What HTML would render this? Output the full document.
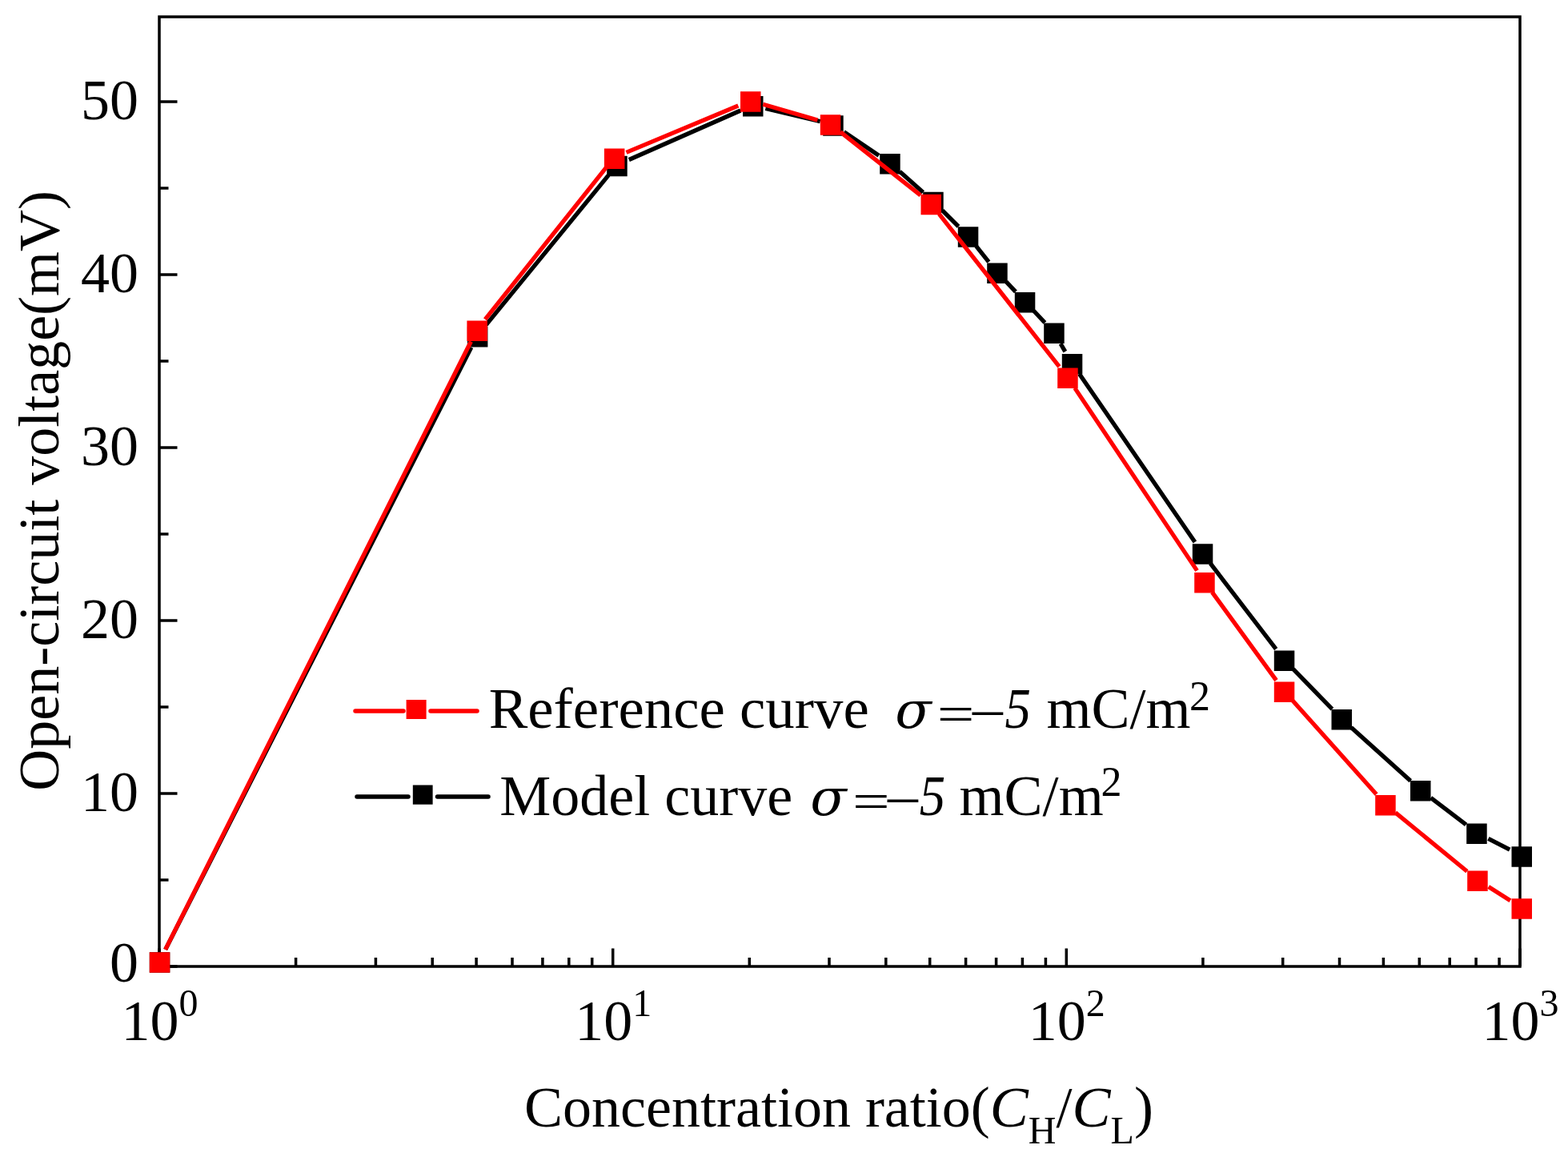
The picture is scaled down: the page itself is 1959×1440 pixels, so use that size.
<!DOCTYPE html>
<html><head><meta charset="utf-8"><title>Open-circuit voltage vs concentration ratio</title>
<style>html,body{margin:0;padding:0;background:#fff;}svg{display:block;}</style></head>
<body>
<svg width="1959" height="1440" viewBox="0 0 1959 1440">
<rect width="100%" height="100%" fill="#fff"/>
<rect x="199" y="21" width="1700" height="1186" fill="none" stroke="#000" stroke-width="3.5"/>
<path d="M199 1207H221.5M199 991H221.5M199 775H221.5M199 559H221.5M199 343H221.5M199 127H221.5M199 1099H210.5M199 883H210.5M199 667H210.5M199 451H210.5M199 235H210.5M199 1207V1184.5M369.6 1207V1196M469.4 1207V1196M540.2 1207V1196M595.1 1207V1196M640 1207V1196M677.9 1207V1196M710.8 1207V1196M739.7 1207V1196M765.7 1207V1184.5M936.3 1207V1196M1036 1207V1196M1106.8 1207V1196M1161.7 1207V1196M1206.6 1207V1196M1244.6 1207V1196M1277.4 1207V1196M1306.4 1207V1196M1332.3 1207V1184.5M1502.9 1207V1196M1602.7 1207V1196M1673.5 1207V1196M1728.4 1207V1196M1773.3 1207V1196M1811.2 1207V1196M1844.1 1207V1196M1873.1 1207V1196M1899 1207V1184.5" stroke="#000" stroke-width="3.5" fill="none"/>
<path d="M206.7 1185.9L588.8 433.9M606.8 406.4L760.2 218.9M785.8 199.5L925.3 138M956.4 135.3L1024.7 151.7M1054.4 164.8L1098 194.2M1124.1 214.3L1153.3 240.2M1177.4 262.8L1197.5 282.9M1219.6 307.4L1235.3 327.1M1257.1 351.9L1268.9 364.3M1291.6 388.3L1305.4 403M1325.1 429.2L1330.8 439.1M1348.5 466.9L1492.9 677M1512.2 703.7L1594.2 810.7M1615.7 835.6L1664.4 885.6M1688.1 908.5L1762.3 975.3M1787.6 996.4L1831.6 1029.8M1859.4 1047.3L1886.2 1061.2" stroke="#000" stroke-width="5.3" stroke-linecap="butt" fill="none"/>
<path d="M186.8 1189.2h25.5v25.5h-25.5zM583.9 407.9h25.5v25.5h-25.5zM758.2 194.8h25.5v25.5h-25.5zM928 120.1h25.5v25.5h-25.5zM1028.2 144.2h25.5v25.5h-25.5zM1099.2 192.1h25.5v25.5h-25.5zM1153.2 239.8h25.5v25.5h-25.5zM1196.8 283.2h25.5v25.5h-25.5zM1233.2 328.6h25.5v25.5h-25.5zM1267.8 364.9h25.5v25.5h-25.5zM1304.2 403.6h25.5v25.5h-25.5zM1326.8 441.9h25.5v25.5h-25.5zM1489.8 679.2h25.5v25.5h-25.5zM1591.8 812.5h25.5v25.5h-25.5zM1663.5 886h25.5v25.5h-25.5zM1762 975h25.5v25.5h-25.5zM1832.2 1028.5h25.5v25.5h-25.5zM1888.5 1057.3h25.5v25.5h-25.5z" fill="#000"/>
<path d="M206.6 1185.9L588.4 426.5M606.1 398.9L757 209.7M782.5 190.4L922.3 132M953.3 130.2L1021.4 150M1050.1 164.8L1150.1 243.9M1173.2 267.1L1323.4 457.9M1342.8 484.6L1495.5 712.6M1514.4 739.6L1594.5 849.6M1615.2 875.2L1719.6 992.1M1743.4 1014.9L1832.9 1088.3M1859.7 1107.6L1886.9 1124.8" stroke="#f00" stroke-width="5.3" stroke-linecap="butt" fill="none"/>
<path d="M186.8 1189.2h25.5v25.5h-25.5zM583.4 400.4h25.5v25.5h-25.5zM754.9 185.4h25.5v25.5h-25.5zM925 114.2h25.5v25.5h-25.5zM1024.8 143.2h25.5v25.5h-25.5zM1150.5 242.8h25.5v25.5h-25.5zM1321.2 459.6h25.5v25.5h-25.5zM1492.2 715h25.5v25.5h-25.5zM1591.8 851.5h25.5v25.5h-25.5zM1718.2 993h25.5v25.5h-25.5zM1833.2 1087.5h25.5v25.5h-25.5zM1888.5 1122.2h25.5v25.5h-25.5z" fill="#f00"/>
<g font-family="Liberation Serif, Times New Roman, serif" font-size="72" fill="#000" style="font-kerning:none">
<text x="173" y="1226" text-anchor="end">0</text>
<text x="173" y="1012.5" text-anchor="end">10</text>
<text x="173" y="796.5" text-anchor="end">20</text>
<text x="173" y="580.5" text-anchor="end">30</text>
<text x="173" y="364.5" text-anchor="end">40</text>
<text x="173" y="148.5" text-anchor="end">50</text>
<text x="151.5" y="1299">10<tspan font-size="48" dy="-29.7">0</tspan></text>
<text x="718.2" y="1299">10<tspan font-size="48" dy="-29.7">1</tspan></text>
<text x="1284.8" y="1299">10<tspan font-size="48" dy="-29.7">2</tspan></text>
<text x="1851.5" y="1299">10<tspan font-size="48" dy="-29.7">3</tspan></text>
<text transform="translate(73.3 612.8) rotate(-90)" text-anchor="middle">Open-circuit voltage(mV)</text>
<text x="655" y="1407">Concentration ratio(<tspan font-style="italic">C</tspan><tspan font-size="48" dy="20.5">H</tspan><tspan dy="-20.5">/</tspan><tspan font-style="italic">C</tspan><tspan font-size="48" dy="20.5">L</tspan><tspan dy="-20.5">)</tspan></text>
<path d="M444 887.9H504M538 887.9H596" stroke="#f00" stroke-width="5.5" stroke-linecap="round"/>
<rect x="507.6" y="874" width="25" height="24" fill="#f00"/>
<path d="M446 994.9H510M546.5 994.9H610" stroke="#000" stroke-width="5.5" stroke-linecap="round"/>
<rect x="515.8" y="980.5" width="24.8" height="24.2" fill="#000"/>
<text transform="translate(610.7 909) scale(1.0118 1)">Reference curve</text>
<text x="624.3" y="1017.5">Model curve</text>
<text transform="translate(1118.3 909) scale(1.04 1)" font-family="DejaVu Serif, serif" font-size="64" font-style="italic">σ</text>
<text transform="translate(1170.8 913.4) scale(1.15 0.893)">=</text>
<text transform="translate(1215 908) scale(1.05 1)">–</text>
<text transform="translate(1255.5 909) scale(0.9 1)" font-style="italic">5</text>
<text x="1307.5" y="909">mC/m</text>
<text x="1486" y="887" font-size="52">2</text>
<text transform="translate(1012.3 1017.5) scale(1.04 1)" font-family="DejaVu Serif, serif" font-size="64" font-style="italic">σ</text>
<text transform="translate(1065.1 1021.9) scale(1.15 0.893)">=</text>
<text transform="translate(1108.9 1016.5) scale(1.05 1)">–</text>
<text transform="translate(1148.8 1017.5) scale(0.9 1)" font-style="italic">5</text>
<text x="1198.6" y="1017.5">mC/m</text>
<text x="1375.6" y="993.5" font-size="52">2</text>
</g>
</svg>
</body></html>
